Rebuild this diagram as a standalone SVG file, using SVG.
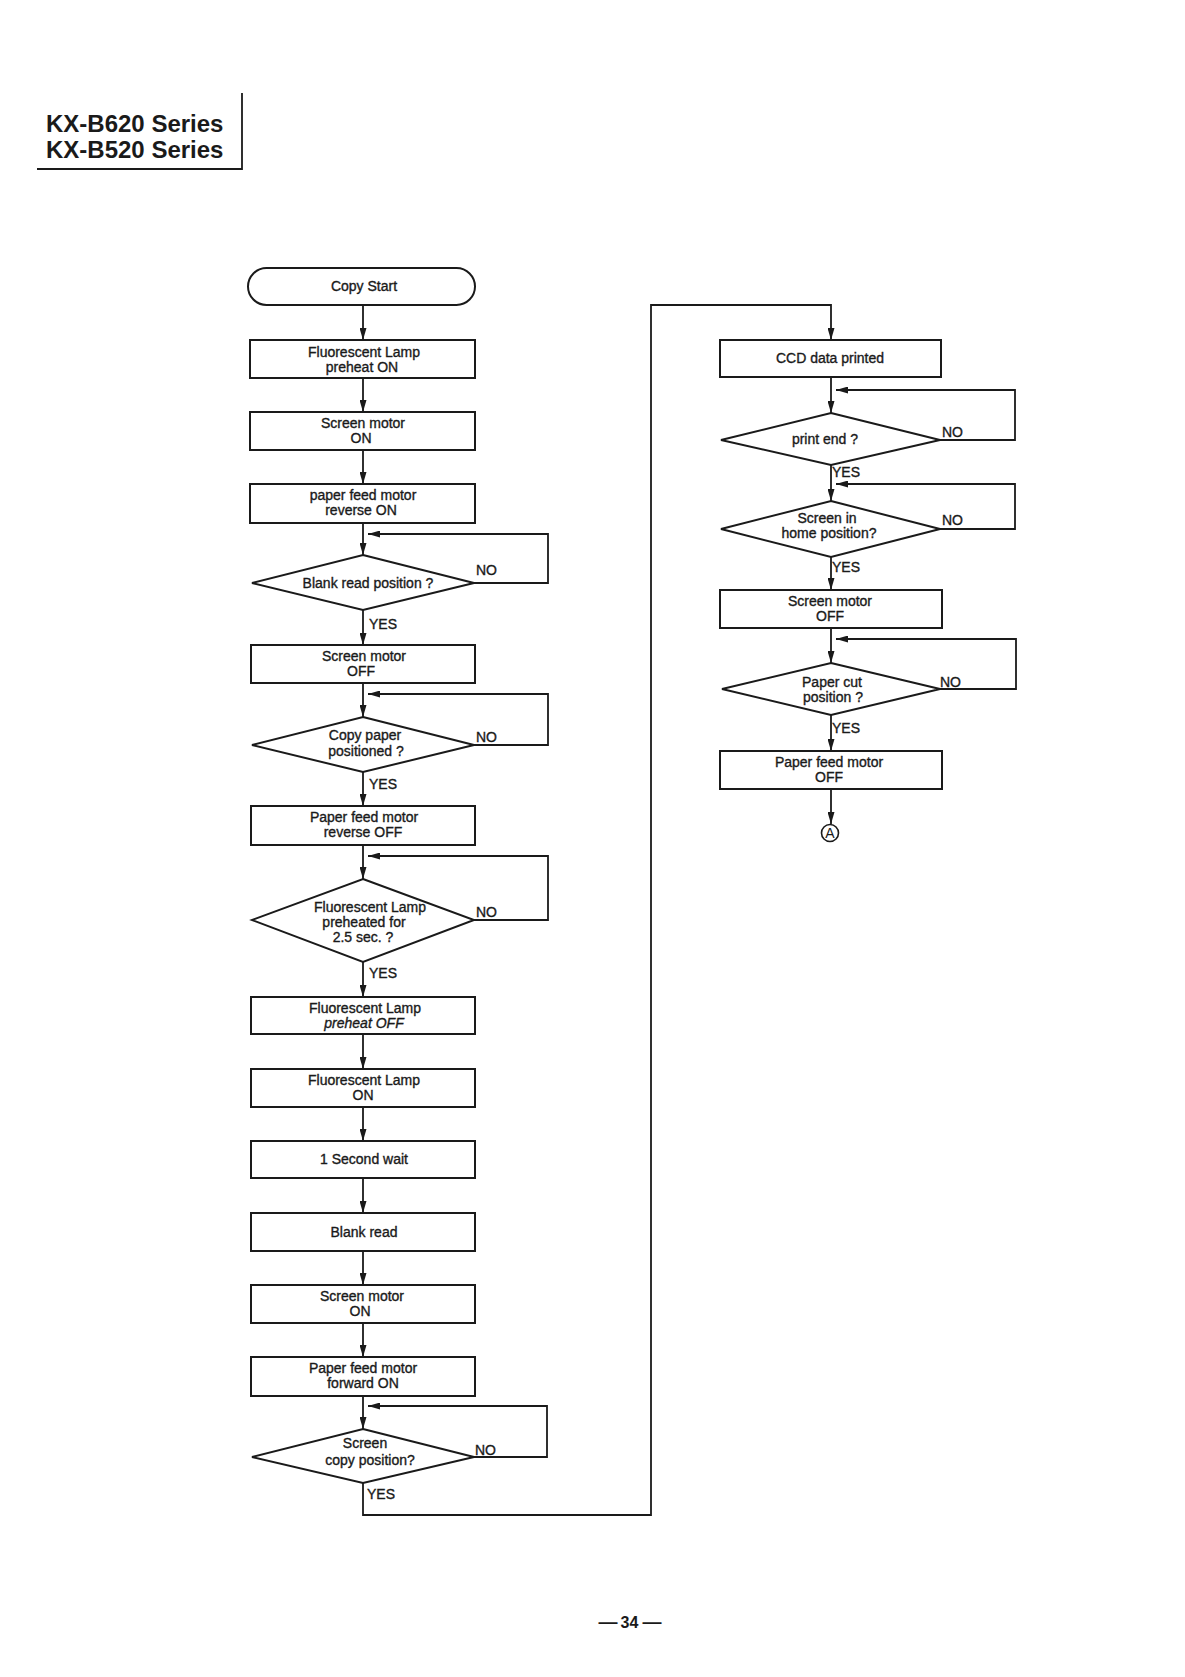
<svg xmlns="http://www.w3.org/2000/svg" width="1185" height="1677" viewBox="0 0 1185 1677">
<style>
  .bg { fill: #ffffff; }
  .box { fill: #ffffff; stroke: #1a1a1a; stroke-width: 2; }
  .conn { fill: none; stroke: #1a1a1a; stroke-width: 1.8; }
  .t { font-family: "Liberation Sans", Arial, sans-serif; font-size: 14px; fill: #1a1a1a; stroke: #1a1a1a; stroke-width: 0.35; text-anchor: middle; }
  .lbl { font-family: "Liberation Sans", Arial, sans-serif; font-size: 14px; fill: #1a1a1a; stroke: #1a1a1a; stroke-width: 0.35; text-anchor: start; }
  .hdr { font-family: "Liberation Sans", Arial, sans-serif; font-size: 24px; font-weight: bold; fill: #1a1a1a; }
  .pg { font-family: "Liberation Sans", Arial, sans-serif; font-weight: bold; fill: #1a1a1a; text-anchor: middle; }
</style>
<defs>
  <marker id="arr" viewBox="0 0 12 7" refX="12" refY="3.5" markerWidth="12" markerHeight="7" markerUnits="userSpaceOnUse" orient="auto">
    <path d="M0,0 L12,3.5 L0,7 z" fill="#1a1a1a"/>
  </marker>
</defs>
<rect class="bg" x="0" y="0" width="1185" height="1677"/>

<g id="header">
  <text class="hdr" x="46" y="132">KX-B620 Series</text>
  <text class="hdr" x="46" y="158">KX-B520 Series</text>
  <path class="conn" d="M242,93 V169 H37"/>
</g>

<g id="connectors">
  <!-- left column straight arrows -->
  <path class="conn" d="M363,305 V340" marker-end="url(#arr)"/>
  <path class="conn" d="M363,378 V412" marker-end="url(#arr)"/>
  <path class="conn" d="M363,450 V484" marker-end="url(#arr)"/>
  <path class="conn" d="M363,523 V555" marker-end="url(#arr)"/>
  <path class="conn" d="M363,610 V645" marker-end="url(#arr)"/>
  <path class="conn" d="M363,683 V717" marker-end="url(#arr)"/>
  <path class="conn" d="M363,772 V806" marker-end="url(#arr)"/>
  <path class="conn" d="M363,845 V879" marker-end="url(#arr)"/>
  <path class="conn" d="M363,962 V997" marker-end="url(#arr)"/>
  <path class="conn" d="M363,1034 V1069" marker-end="url(#arr)"/>
  <path class="conn" d="M363,1107 V1141" marker-end="url(#arr)"/>
  <path class="conn" d="M363,1178 V1213" marker-end="url(#arr)"/>
  <path class="conn" d="M363,1251 V1285" marker-end="url(#arr)"/>
  <path class="conn" d="M363,1323 V1357" marker-end="url(#arr)"/>
  <path class="conn" d="M363,1396 V1429" marker-end="url(#arr)"/>
  <!-- left loops (NO) -->
  <path class="conn" d="M474,583 H548 V534 H368" marker-end="url(#arr)"/>
  <path class="conn" d="M474,745 H548 V694 H368" marker-end="url(#arr)"/>
  <path class="conn" d="M474,920 H548 V856 H368" marker-end="url(#arr)"/>
  <path class="conn" d="M474,1457 H547 V1406 H368" marker-end="url(#arr)"/>
  <!-- cross-over to right column -->
  <path class="conn" d="M363,1483 V1515 H651 V305 H831 V340" marker-end="url(#arr)"/>
  <!-- right column straight arrows -->
  <path class="conn" d="M831,377 V413" marker-end="url(#arr)"/>
  <path class="conn" d="M831,465 V501" marker-end="url(#arr)"/>
  <path class="conn" d="M831,557 V590" marker-end="url(#arr)"/>
  <path class="conn" d="M831,628 V663" marker-end="url(#arr)"/>
  <path class="conn" d="M831,715 V751" marker-end="url(#arr)"/>
  <path class="conn" d="M831,789 V824" marker-end="url(#arr)"/>
  <!-- right loops (NO) -->
  <path class="conn" d="M940,440 H1015 V390 H836" marker-end="url(#arr)"/>
  <path class="conn" d="M940,529 H1015 V484 H836" marker-end="url(#arr)"/>
  <path class="conn" d="M940,689 H1016 V639 H836" marker-end="url(#arr)"/>
  <!-- branch labels -->
  <text class="lbl" x="476" y="575">NO</text>
  <text class="lbl" x="369" y="629">YES</text>
  <text class="lbl" x="476" y="742">NO</text>
  <text class="lbl" x="369" y="789">YES</text>
  <text class="lbl" x="476" y="917">NO</text>
  <text class="lbl" x="369" y="978">YES</text>
  <text class="lbl" x="475" y="1455">NO</text>
  <text class="lbl" x="367" y="1499">YES</text>
  <text class="lbl" x="942" y="437">NO</text>
  <text class="lbl" x="832" y="477">YES</text>
  <text class="lbl" x="942" y="525">NO</text>
  <text class="lbl" x="832" y="572">YES</text>
  <text class="lbl" x="940" y="687">NO</text>
  <text class="lbl" x="832" y="733">YES</text>
</g>

<g id="n-copy-start">
  <rect class="box" x="248" y="268" width="227" height="37" rx="18.5" ry="18.5"/>
  <text class="t" x="364" y="291">Copy Start</text>
</g>
<g id="n-lamp-preheat-on">
  <rect class="box" x="250" y="340" width="225" height="38"/>
  <text class="t" x="364" y="357">Fluorescent Lamp</text>
  <text class="t" x="362" y="372">preheat ON</text>
</g>
<g id="n-screen-on-1">
  <rect class="box" x="250" y="412" width="225" height="38"/>
  <text class="t" x="363" y="428">Screen motor</text>
  <text class="t" x="361" y="443">ON</text>
</g>
<g id="n-feed-rev-on">
  <rect class="box" x="250" y="484" width="225" height="39"/>
  <text class="t" x="363" y="500">paper feed motor</text>
  <text class="t" x="361" y="515">reverse ON</text>
</g>
<g id="n-blank-pos">
  <polygon class="box" points="363,555 474,583 363,610 252,583"/>
  <text class="t" x="368" y="588">Blank read position ?</text>
</g>
<g id="n-screen-off-1">
  <rect class="box" x="251" y="645" width="224" height="38"/>
  <text class="t" x="364" y="661">Screen motor</text>
  <text class="t" x="361" y="676">OFF</text>
</g>
<g id="n-paper-pos">
  <polygon class="box" points="363,717 474,745 363,772 252,745"/>
  <text class="t" x="365" y="740">Copy paper</text>
  <text class="t" x="366" y="756">positioned ?</text>
</g>
<g id="n-feed-rev-off">
  <rect class="box" x="251" y="806" width="224" height="39"/>
  <text class="t" x="364" y="822">Paper feed motor</text>
  <text class="t" x="363" y="837">reverse OFF</text>
</g>
<g id="n-preheated">
  <polygon class="box" points="363,879 474,920 363,962 252,920"/>
  <text class="t" x="370" y="912">Fluorescent Lamp</text>
  <text class="t" x="364" y="927">preheated for</text>
  <text class="t" x="363" y="942">2.5 sec. ?</text>
</g>
<g id="n-lamp-preheat-off">
  <rect class="box" x="251" y="997" width="224" height="37"/>
  <text class="t" x="365" y="1013">Fluorescent Lamp</text>
  <text class="t" x="364" y="1028" font-style="italic">preheat OFF</text>
</g>
<g id="n-lamp-on">
  <rect class="box" x="251" y="1069" width="224" height="38"/>
  <text class="t" x="364" y="1085">Fluorescent Lamp</text>
  <text class="t" x="363" y="1100">ON</text>
</g>
<g id="n-wait">
  <rect class="box" x="251" y="1141" width="224" height="37"/>
  <text class="t" x="364" y="1164">1 Second wait</text>
</g>
<g id="n-blank-read">
  <rect class="box" x="251" y="1213" width="224" height="38"/>
  <text class="t" x="364" y="1237">Blank read</text>
</g>
<g id="n-screen-on-2">
  <rect class="box" x="251" y="1285" width="224" height="38"/>
  <text class="t" x="362" y="1301">Screen motor</text>
  <text class="t" x="360" y="1316">ON</text>
</g>
<g id="n-feed-fwd-on">
  <rect class="box" x="251" y="1357" width="224" height="39"/>
  <text class="t" x="363" y="1373">Paper feed motor</text>
  <text class="t" x="363" y="1388">forward ON</text>
</g>
<g id="n-copy-pos">
  <polygon class="box" points="363,1429 474,1457 363,1483 252,1457"/>
  <text class="t" x="365" y="1448">Screen</text>
  <text class="t" x="370" y="1465">copy position?</text>
</g>

<g id="n-ccd">
  <rect class="box" x="720" y="340" width="221" height="37"/>
  <text class="t" x="830" y="363">CCD data printed</text>
</g>
<g id="n-print-end">
  <polygon class="box" points="831,413 940,440 831,465 721,440"/>
  <text class="t" x="825" y="444">print end ?</text>
</g>
<g id="n-home">
  <polygon class="box" points="831,501 940,529 831,557 721,529"/>
  <text class="t" x="827" y="523">Screen in</text>
  <text class="t" x="829" y="538">home position?</text>
</g>
<g id="n-screen-off-2">
  <rect class="box" x="720" y="590" width="222" height="38"/>
  <text class="t" x="830" y="606">Screen motor</text>
  <text class="t" x="830" y="621">OFF</text>
</g>
<g id="n-cut">
  <polygon class="box" points="831,663 940,689 831,715 722,689"/>
  <text class="t" x="832" y="687">Paper cut</text>
  <text class="t" x="833" y="702">position ?</text>
</g>
<g id="n-feed-off">
  <rect class="box" x="720" y="751" width="222" height="38"/>
  <text class="t" x="829" y="767">Paper feed motor</text>
  <text class="t" x="829" y="782">OFF</text>
</g>
<g id="n-connector-a">
  <circle cx="830" cy="833" r="8.5" fill="#ffffff" stroke="#1a1a1a" stroke-width="1.6"/>
  <text x="830" y="838" font-family="Liberation Sans, Arial, sans-serif" font-size="14" text-anchor="middle" fill="#1a1a1a">A</text>
</g>

<g id="page-number">
  <text class="pg" x="630" y="1628"><tspan font-size="19">—</tspan><tspan dx="3" font-size="16">34</tspan><tspan dx="4" font-size="19">—</tspan></text>
</g>
</svg>
